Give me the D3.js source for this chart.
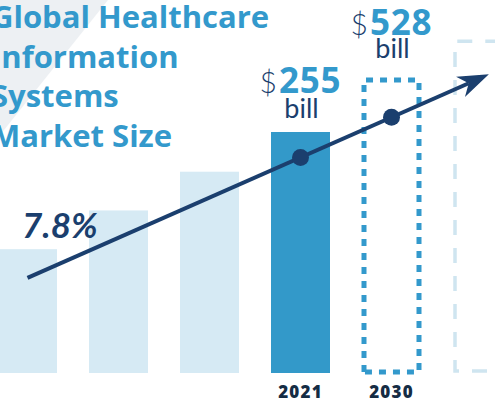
<!DOCTYPE html>
<html>
<head>
<meta charset="utf-8">
<script src="https://cdn.jsdelivr.net/npm/d3@7"></script>
<style>
  html, body { margin: 0; padding: 0; background: #ffffff; }
  svg { display: block; }
</style>
</head>
<body>
<svg id="chart" width="495" height="403"></svg>
<script>
// ---- data ----
const titleLines = ["Global Healthcare", "Information", "Systems", "Market Size"];
const categories = ["y1", "y2", "y3", "2021", "2030", "future"];
const barValues = [131, 172, 213, 255, 310, 351];      // pictured bar heights (index units, 2021 = 255)
const barKinds = ["past", "past", "past", "current", "forecast", "beyond"];
const yearLabels = ["", "", "", "2021", "2030", ""];
const valueLabels = ["", "", "", "255", "528", ""];
const valueUnits = ["", "", "", "bill", "bill", ""];
const cagrLabel = "7.8%";
// trend line: [category position, value]
const trendIdx = [0, 3, 4, 5.07];
const trendVal = [100.6, 228, 270.6, 316];

// ---- setup ----
const svg = d3.select("#chart");
const step = 91, bw = 59, x0 = -2;
const n = categories.length;

const x = d3.scaleBand().domain(categories)
  .range([x0, x0 + step * (n - 1) + bw])
  .paddingInner((step - bw) / step).paddingOuter(0).align(0);
const xi = d3.scaleLinear().domain([0, 1]).range([x0 + bw / 2, x0 + bw / 2 + step]);
const y = d3.scaleLinear().domain([0, 255]).range([373, 132]);

// background triangle
svg.append("path")
  .attr("d", d3.line()([[0, 0], [108, 0], [0, 135]]) + "Z")
  .attr("fill", "#edf0f3");

// title
const title = svg.append("text")
  .attr("font-family", "'Open Sans', sans-serif")
  .attr("font-weight", 700)
  .attr("font-size", 31)
  .attr("fill", "#3399cc");
titleLines.forEach((t, i) => {
  title.append("tspan").attr("x", -9).attr("y", 28 + i * 39.7).text(t);
});

const colors = { past: "#d6eaf4", current: "#3399c9" };

const data = categories.map((c, i) => ({ c, v: barValues[i], k: barKinds[i], yl: yearLabels[i], vl: valueLabels[i], u: valueUnits[i] }));

// bars
svg.selectAll("rect.solid").data(data.filter(d => d.k === "past" || d.k === "current"))
  .join("rect").attr("class", "solid")
  .attr("x", d => x(d.c)).attr("width", x.bandwidth())
  .attr("y", d => y(d.v)).attr("height", d => y(0) - y(d.v))
  .attr("fill", d => colors[d.k]);

// forecast dotted rect
data.filter(d => d.k === "forecast").forEach(d => {
  const l = x(d.c) + 2, r = x(d.c) + x.bandwidth() - 2, t = y(d.v), b = y(0) - 1;
  svg.append("path")
    .attr("d", `M${l},${b}V${t}H${r}V${b}H${l}`)
    .attr("fill", "none").attr("stroke", "#3399cc")
    .attr("stroke-width", 5).attr("stroke-dasharray", "7,7");
});
// beyond dashed rect
data.filter(d => d.k === "beyond").forEach(d => {
  const l = x(d.c) + 2, r = x(d.c) + 2 * x.bandwidth(), t = y(d.v), b = y(0) - 2;
  svg.append("path")
    .attr("d", `M${r},${b}H${l}V${t}H${r}`)
    .attr("fill", "none").attr("stroke", "#cfe5f0")
    .attr("stroke-width", 3.5).attr("stroke-dasharray", "15,13");
});

// trend line
const navy = "#1b3f6e";
const pts = trendIdx.map((t, i) => [xi(t), y(trendVal[i])]);
const last = pts[pts.length - 1], first = pts[0];
const ang = Math.atan2(last[1] - first[1], last[0] - first[0]);
const back = 22;
const lineEnd = [last[0] - back * Math.cos(ang), last[1] - back * Math.sin(ang)];
svg.append("path")
  .attr("d", d3.line()([first, lineEnd]))
  .attr("stroke", navy).attr("stroke-width", 4).attr("fill", "none");
function rot(px, py) {
  return [last[0] + px * Math.cos(ang) - py * Math.sin(ang), last[1] + px * Math.sin(ang) + py * Math.cos(ang)];
}
svg.append("path")
  .attr("d", d3.line()([rot(0, 0), rot(-31, -11), rot(-22, 0), rot(-31, 11)]) + "Z")
  .attr("fill", navy);
svg.selectAll("circle.dot").data(pts.slice(1, 3))
  .join("circle").attr("class", "dot")
  .attr("cx", d => d[0]).attr("cy", d => d[1]).attr("r", 8.5)
  .attr("fill", navy);

// CAGR label
svg.append("text")
  .attr("x", 22).attr("y", 238)
  .attr("font-family", "Lato, sans-serif")
  .attr("font-style", "italic").attr("font-weight", 700)
  .attr("font-size", 35).attr("fill", navy)
  .text(cagrLabel);

// value labels
const labelOff = { current: [39, 14], forecast: [45, 22] };
data.filter(d => d.vl).forEach(d => {
  const cx = x(d.c) + x.bandwidth() / 2;
  const top = y(d.v);
  const off = labelOff[d.k];
  const t = svg.append("text")
    .attr("x", cx).attr("y", top - off[0])
    .attr("text-anchor", "middle")
    .attr("font-family", "Lato, sans-serif");
  t.append("tspan").attr("font-weight", 300).attr("font-size", 30).attr("fill", navy).text("$");
  t.append("tspan").attr("font-family", "'Open Sans', sans-serif").attr("font-weight", 700)
    .attr("font-size", 35).attr("letter-spacing", 0.8)
    .attr("fill", "#3399cc").attr("dx", 2).text(d.vl);
  svg.append("text")
    .attr("x", cx + 1).attr("y", top - off[1])
    .attr("text-anchor", "middle")
    .attr("font-family", "Lato, sans-serif").attr("font-weight", 400)
    .attr("font-size", 27).attr("fill", navy)
    .text(d.u);
});

// year labels
svg.selectAll("text.year").data(data.filter(d => d.yl))
  .join("text").attr("class", "year")
  .attr("x", d => x(d.c) + x.bandwidth() / 2).attr("y", 398)
  .attr("text-anchor", "middle")
  .attr("font-family", "'Open Sans', sans-serif").attr("font-weight", 800)
  .attr("font-size", 17).attr("letter-spacing", 1.2)
  .attr("fill", "#152c44")
  .text(d => d.yl);
</script>
</body>
</html>
